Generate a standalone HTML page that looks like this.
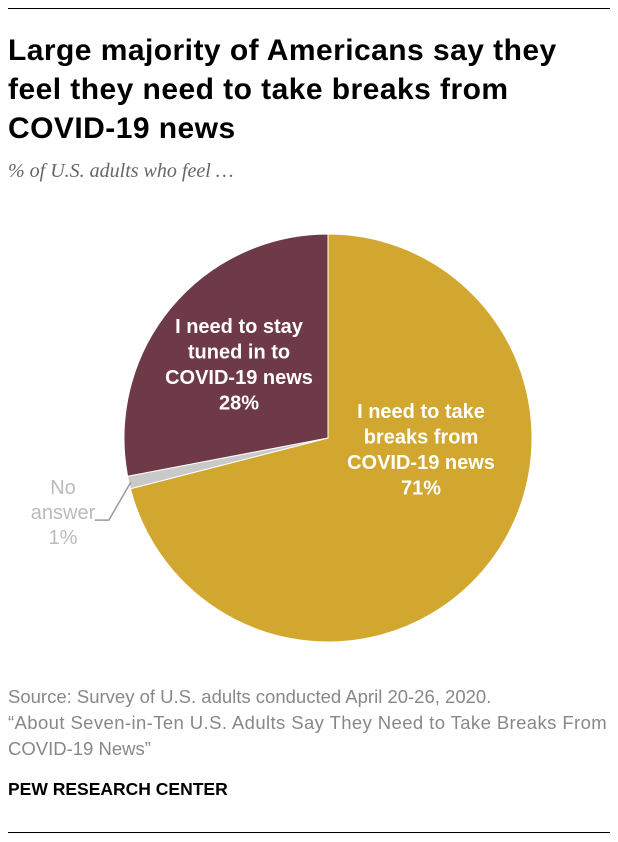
<!DOCTYPE html>
<html><head><meta charset="utf-8"><style>
body{margin:0;background:#fff;width:618px;height:842px;position:relative;font-family:"Liberation Sans",sans-serif;overflow:hidden}
.rule{position:absolute;left:8px;width:602px;height:1px;background:#000}
#title{position:absolute;left:8px;top:31px;font-size:30px;font-weight:bold;line-height:39px;color:#000;width:610px;letter-spacing:0.45px;white-space:nowrap}
#sub{position:absolute;left:8px;top:160px;font-size:20px;font-style:italic;color:#666;font-family:"Liberation Serif",serif}
.note{position:absolute;left:8px;font-size:18.5px;color:#888;line-height:26px;white-space:nowrap}
#pew{position:absolute;left:8px;top:779px;font-size:17.5px;font-weight:bold;color:#000}
</style></head><body>
<div class="rule" style="top:8px"></div>
<div id="title">Large majority of Americans say they<br>feel they need to take breaks from<br>COVID-19 news</div>
<div id="sub">% of U.S. adults who feel …</div>
<svg id="chart" width="618" height="842" style="position:absolute;left:0;top:0"></svg>
<div class="note" style="top:684px">Source: Survey of U.S. adults conducted April 20-26, 2020.<br><span style="letter-spacing:0.4px">“About Seven-in-Ten U.S. Adults Say They Need to Take Breaks From</span><br>COVID-19 News”</div>
<div id="pew">PEW RESEARCH CENTER</div>
<div class="rule" style="top:832px"></div>
<script>
const categories=["I need to take breaks from COVID-19 news","No answer","I need to stay tuned in to COVID-19 news"];
const values=[71,1,28];
const colors=["#D1A730","#C9C9C9","#6E3A47"];
const cx=328,cy=438,r=204;
const svg=document.getElementById('chart');
const NS='http://www.w3.org/2000/svg';
const total=values.reduce((a,b)=>a+b,0);
function pt(a,rr){return [cx+rr*Math.sin(a),cy-rr*Math.cos(a)];}
let acc=0;const mids=[];
values.forEach((v,i)=>{
  const a0=acc/total*2*Math.PI;acc+=v;const a1=acc/total*2*Math.PI;
  mids.push((a0+a1)/2);
  const p0=pt(a0,r),p1=pt(a1,r);
  const path=document.createElementNS(NS,'path');
  path.setAttribute('d',`M${cx},${cy}L${p0[0]},${p0[1]}A${r},${r} 0 ${a1-a0>Math.PI?1:0} 1 ${p1[0]},${p1[1]}Z`);
  path.setAttribute('fill',colors[i]);path.setAttribute('stroke','#fff');path.setAttribute('stroke-width','1');
  
  
  svg.appendChild(path);
});
function label(lines,x,y,fill,name,weight,size,lh){
  const t=document.createElementNS(NS,'text');
  t.setAttribute('text-anchor','middle');t.setAttribute('font-size',size);
  t.setAttribute('font-weight',weight);t.setAttribute('fill',fill);
  t.setAttribute('font-family','Liberation Sans, sans-serif');
  lines.forEach((l,k)=>{const s=document.createElementNS(NS,'tspan');s.setAttribute('x',x);s.setAttribute('y',y+k*lh);s.textContent=l;t.appendChild(s);});
  
  
  svg.appendChild(t);
}
label(["I need to take","breaks from","COVID-19 news",values[0]+"%"],421,418,"#fff","label-breaks","bold",20,25.5);
label(["I need to stay","tuned in to","COVID-19 news",values[2]+"%"],239,333,"#fff","label-stay-tuned","bold",20,25.5);
label(["No","answer",values[1]+"%"],63,494,"#BBBBBB","label-no-answer","normal",20,25);
const pe=pt(mids[1],r-2);
const ln=document.createElementNS(NS,'polyline');
ln.setAttribute('points',`${pe[0]},${pe[1]} ${pe[0]-22},${pe[1]+38} ${pe[0]-36},${pe[1]+38}`);
ln.setAttribute('fill','none');ln.setAttribute('stroke','#999');ln.setAttribute('stroke-width','1.5');


svg.appendChild(ln);
</script>
</body></html>
